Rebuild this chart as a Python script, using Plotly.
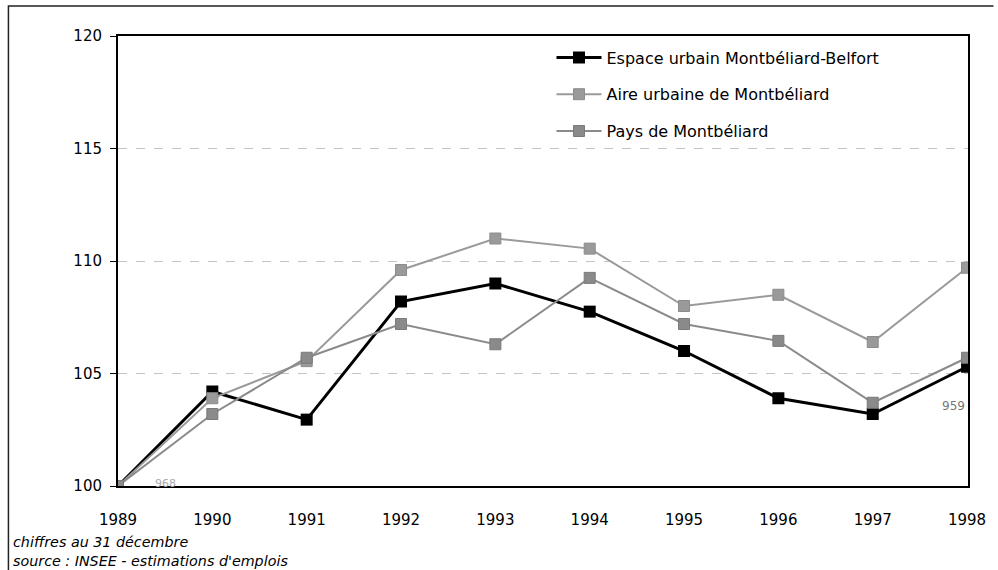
import plotly.graph_objects as go

years = [1989, 1990, 1991, 1992, 1993, 1994, 1995, 1996, 1997, 1998]
espace_urbain = [100, 104.2, 102.95, 108.2, 109.0, 107.75, 106.0, 103.9, 103.2, 105.3]
aire_urbaine = [100, 103.9, 105.55, 109.6, 111.0, 110.55, 108.0, 108.5, 106.4, 109.7]
pays = [100, 103.2, 105.7, 107.2, 106.3, 109.25, 107.2, 106.45, 103.7, 105.7]

series_names = [
    "Espace urbain Montbéliard-Belfort",
    "Aire urbaine de Montbéliard",
    "Pays de Montbéliard",
]
y_ticks = [100, 105, 110, 115, 120]

FONT = "DejaVu Sans"

fig = go.Figure()

fig.add_trace(go.Scatter(
    x=years, y=espace_urbain, name=series_names[0], mode="lines+markers",
    line=dict(color="#000000", width=3),
    marker=dict(symbol="square", size=12, color="#000000"),
    legendgroup="a",
))
fig.add_trace(go.Scatter(
    x=years, y=aire_urbaine, name=series_names[1], mode="lines+markers",
    line=dict(color="#9a9a9a", width=2),
    marker=dict(symbol="square", size=11, color="#9a9a9a",
                line=dict(color="#8c8c8c", width=1)),
    legendgroup="b",
))
fig.add_trace(go.Scatter(
    x=years, y=pays, name=series_names[2], mode="lines+markers",
    line=dict(color="#8a8a8a", width=2),
    marker=dict(symbol="square", size=11, color="#8a8a8a",
                line=dict(color="#7a7a7a", width=1)),
    legendgroup="c",
))

# stray value labels printed on the chart
fig.add_annotation(x=1989.5, y=100.1, text="968", showarrow=False,
                   font=dict(family=FONT, size=11, color="#aaaaaa"))
fig.add_annotation(x=1997.86, y=103.55, text="959", showarrow=False,
                   font=dict(family=FONT, size=12, color="#777777"))

# footnotes
fig.add_annotation(xref="paper", yref="paper", x=-0.126, y=-0.124,
                   xanchor="left", yanchor="middle", showarrow=False,
                   text="<i>chiffres au 31 décembre</i>",
                   font=dict(family=FONT, size=14.3, color="#000"))
fig.add_annotation(xref="paper", yref="paper", x=-0.126, y=-0.166,
                   xanchor="left", yanchor="middle", showarrow=False,
                   text="<i>source : INSEE - estimations d'emplois</i>",
                   font=dict(family=FONT, size=14.3, color="#000"))

# outer frame (left and top edges)
fig.add_shape(type="path", xref="paper", yref="paper",
              path="M -0.1289 -0.19 L -0.1289 1.0667 L 1.03 1.0667",
              line=dict(color="#222", width=1.5))

fig.update_layout(
    width=998, height=570,
    margin=dict(l=118, r=19, t=36, b=84),
    paper_bgcolor="white", plot_bgcolor="white",
    font=dict(family=FONT, size=15, color="#000"),
    showlegend=True,
    legend=dict(
        x=0.51, y=0.99, xanchor="left", yanchor="top",
        bgcolor="rgba(0,0,0,0)", borderwidth=0,
        font=dict(family=FONT, size=16, color="#000"),
        traceorder="grouped", tracegroupgap=13,
        itemwidth=45,
    ),
    xaxis=dict(
        range=[1989, 1998.01], tickmode="array", tickvals=years,
        ticktext=[str(y) for y in years],
        showgrid=False, zeroline=False,
        showline=True, linecolor="#000", linewidth=2, mirror=True,
        ticks="", tickfont=dict(family=FONT, size=15),
        ticklabelstandoff=19,
    ),
    yaxis=dict(
        range=[100, 120], tickmode="array", tickvals=y_ticks,
        showgrid=True, gridcolor="#c4c4c4", griddash="dash", gridwidth=1,
        zeroline=False,
        showline=True, linecolor="#000", linewidth=2, mirror=True,
        ticks="outside", ticklen=6, tickcolor="#000",
        tickfont=dict(family=FONT, size=15),
        ticklabelstandoff=5,
    ),
)

fig.write_html("out.html")
